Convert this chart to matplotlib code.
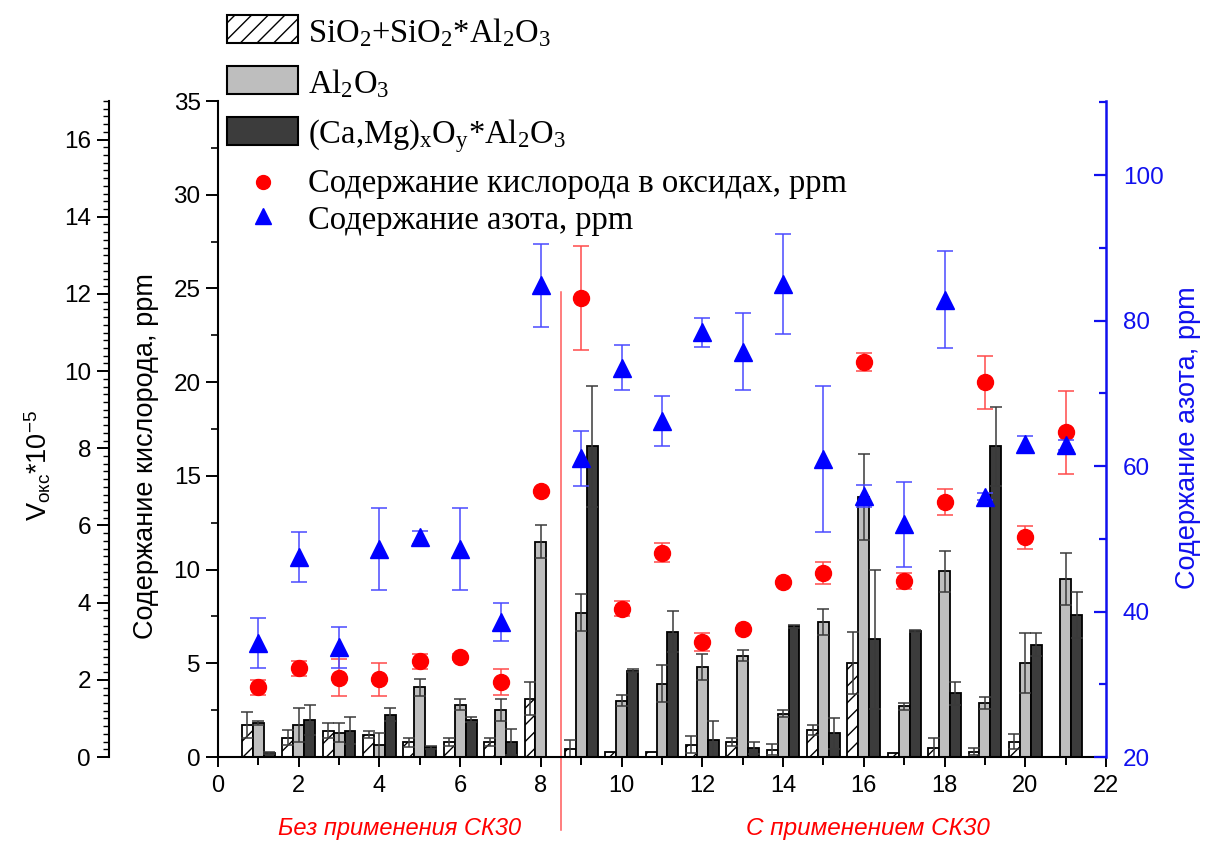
import numpy as np
import matplotlib
matplotlib.use("Agg")
import matplotlib.pyplot as plt
from matplotlib.ticker import MultipleLocator
from matplotlib.patches import Rectangle
from matplotlib.lines import Line2D

plt.rcParams['font.family'] = ['Liberation Sans', 'DejaVu Sans']
plt.rcParams['mathtext.fontset'] = 'custom'
plt.rcParams['mathtext.rm'] = 'Liberation Serif'
plt.rcParams['mathtext.it'] = 'Liberation Serif:italic'
plt.rcParams['mathtext.sf'] = 'Liberation Sans'
plt.rcParams['hatch.linewidth'] = 1.0

# ---------------- data ----------------
samples = np.arange(1, 22)
sio2 = [0.83, 0.50, 0.68, 0.58, 0.38, 0.38, 0.38, 1.51, 0.20, 0.12, 0.12,
        0.32, 0.38, 0.19, 0.69, 2.43, 0.11, 0.24, 0.14, 0.40, 0.0]
sio2_err = [0.33, 0.19, 0.20, 0.10, 0.12, 0.10, 0.10, 0.43, 0.24, 0.0, 0.0,
            0.22, 0.10, 0.15, 0.13, 0.81, 0.0, 0.25, 0.10, 0.19, 0.0]
al2o3 = [0.89, 0.82, 0.63, 0.31, 1.81, 1.36, 1.22, 5.58, 3.74, 1.46, 1.90,
         2.33, 2.62, 1.12, 3.49, 6.73, 1.31, 4.81, 1.40, 2.43, 4.61]
al2o3_err = [0.05, 0.44, 0.25, 0.32, 0.22, 0.15, 0.29, 0.43, 0.48, 0.14, 0.48,
             0.33, 0.14, 0.09, 0.34, 1.11, 0.09, 0.53, 0.15, 0.78, 0.68]
camg = [0.10, 0.96, 0.68, 1.10, 0.25, 0.97, 0.38, 0.0, 8.05, 2.24, 3.25,
        0.43, 0.23, 3.39, 0.62, 3.05, 3.26, 1.65, 8.05, 2.91, 3.68]
camg_err = [0.03, 0.40, 0.35, 0.16, 0.04, 0.06, 0.34, 0.0, 1.56, 0.03, 0.54,
            0.49, 0.15, 0.04, 0.40, 1.80, 0.03, 0.29, 1.03, 0.30, 0.60]
oxygen = [3.73, 4.73, 4.23, 4.14, 5.12, 5.32, 4.02, 14.21, 24.49, 7.91, 10.9,
          6.14, 6.81, 9.32, 9.83, 21.09, 9.41, 13.62, 19.99, 11.72, 17.32]
oxygen_err = [0.4, 0.4, 1.0, 0.9, 0.4, 0.15, 0.7, 0.0, 2.8, 0.39, 0.5,
              0.5, 0.0, 0.0, 0.6, 0.48, 0.42, 0.7, 1.4, 0.6, 2.2]
nitrogen = [35.7, 47.5, 35.1, 48.6, 50.2, 48.6, 38.6, 84.85, 61.06, 73.55, 66.2,
            78.4, 75.7, 85.0, 61.0, 55.9, 51.97, 82.9, 55.8, 63.0, 62.9]
nitrogen_err = [3.4, 3.5, 2.8, 5.7, 0.9, 5.7, 2.6, 5.7, 3.8, 3.1, 3.5,
                2.0, 5.3, 6.9, 10.0, 1.55, 5.9, 6.7, 0.5, 1.2, 0.7]

legend_labels = [r'SiO$_\mathrm{2}$+SiO$_\mathrm{2}$*Al$_\mathrm{2}$O$_\mathrm{3}$',
                 r'Al$_\mathrm{2}$O$_\mathrm{3}$',
                 r'(Ca,Mg)$_\mathrm{x}$O$_\mathrm{y}$*Al$_\mathrm{2}$O$_\mathrm{3}$',
                 'Содержание кислорода в оксидах, ppm',
                 'Содержание азота, ppm']
group_labels = ['Без применения СК30', 'С применением СК30']

# ---------------- figure ----------------
W, H = 1210, 841
fig = plt.figure(figsize=(W / 100, H / 100), dpi=100)

def fx(px):
    return px / W

def fy(py):
    return 1 - py / H

L, R, B, T = 218, 1106, 757, 101
ax = fig.add_axes([fx(L), fy(B), (R - L) / W, (B - T) / H])
axV = ax.twinx()
axN = ax.twinx()
axV.set_zorder(1)
ax.set_zorder(2)
axN.set_zorder(3)
for a in (ax, axV, axN):
    a.patch.set_visible(False)

# inner oxygen axis
ax.set_xlim(0, 22)
ax.set_ylim(0, 35)
for s in ('top', 'right'):
    ax.spines[s].set_visible(False)
ax.spines['left'].set_linewidth(1.5)
ax.spines['bottom'].set_linewidth(1.5)
ax.xaxis.set_major_locator(MultipleLocator(2))
ax.xaxis.set_minor_locator(MultipleLocator(1))
ax.yaxis.set_major_locator(MultipleLocator(5))
ax.yaxis.set_minor_locator(MultipleLocator(2.5))
ax.tick_params(axis='x', which='major', direction='out', length=7, width=1.4,
               labelsize=17, pad=6)
ax.tick_params(axis='x', which='minor', direction='out', length=6, width=1.4)
ax.tick_params(axis='y', which='major', direction='out', length=8.5, width=1.4,
               labelsize=17.5, pad=4)
ax.tick_params(axis='y', which='minor', direction='out', length=5, width=1.2)

# outer V axis (bars)
axV.set_ylim(0, 17)
for s in ('top', 'right', 'bottom'):
    axV.spines[s].set_visible(False)
axV.spines['left'].set_visible(True)
axV.spines['left'].set_position(('axes', -(L - 109) / (R - L)))
axV.spines['left'].set_linewidth(1.5)
axV.yaxis.set_ticks_position('left')
axV.yaxis.set_major_locator(MultipleLocator(2))
axV.yaxis.set_minor_locator(MultipleLocator(0.2))
axV.tick_params(axis='y', which='major', direction='out', length=9, width=1.4,
                labelsize=17.5, pad=4)
axV.tick_params(axis='y', which='minor', direction='out', length=4, width=1.0)

# right nitrogen axis
axN.set_ylim(20, 110.2)
for s in ('top', 'left', 'bottom'):
    axN.spines[s].set_visible(False)
axN.spines['right'].set_color('#1010ee')
axN.spines['right'].set_linewidth(1.8)
axN.yaxis.set_major_locator(MultipleLocator(20))
axN.yaxis.set_minor_locator(MultipleLocator(10))
axN.tick_params(axis='y', which='major', direction='in', length=9, width=1.6,
                colors='#1010ee', labelsize=17.5, pad=12)
axN.tick_params(axis='y', which='minor', direction='in', length=5, width=1.6,
                colors='#1010ee')

# ---------------- bars ----------------
bw = 0.27
series = [
    (sio2, sio2_err, -bw, dict(facecolor='white', hatch='//')),
    (al2o3, al2o3_err, 0.0, dict(facecolor='#bebebe')),
    (camg, camg_err, bw, dict(facecolor='#3c3c3c')),
]
for vals, errs, off, style in series:
    vals = np.asarray(vals, float)
    errs = np.asarray(errs, float)
    m = vals > 0
    axV.bar(samples[m] + off, vals[m], width=bw, edgecolor='black',
            linewidth=1.3, zorder=2, **style)
    e = m & (errs > 0)
    axV.errorbar(samples[e] + off, vals[e], yerr=errs[e], fmt='none',
                 ecolor='#3a3a3a', elinewidth=1.1, capsize=4, capthick=1.1,
                 zorder=3)

# ---------------- points ----------------
ax.errorbar(samples, oxygen, yerr=oxygen_err, fmt='o', color='#ff0000',
            ms=11.5, mec='#ff0000', ecolor='#ff4a4a', elinewidth=1.1,
            capsize=6, capthick=1.1, zorder=4)
axN.errorbar(samples, nitrogen, yerr=nitrogen_err, fmt='^', color='#0000ff',
             ms=13, mec='#0000ff', ecolor='#4a4aff', elinewidth=1.1,
             capsize=6, capthick=1.1, zorder=4)

# separator line
ax.plot([8.5, 8.5], [(B - 292) / ((B - T) / 35), -(830 - B) / ((B - T) / 35)],
        color='#ff5a5a', lw=1.1, clip_on=False, zorder=1)

# group captions
fig.text(fx(400), fy(828), group_labels[0], color='#ff0000', style='italic',
         fontsize=17, ha='center', va='center')
fig.text(fx(868), fy(828), group_labels[1], color='#ff0000', style='italic',
         fontsize=17.5, ha='center', va='center')

# axis labels
fig.text(fx(38), fy(465), r'V$_\mathsf{окс}$*10$^\mathsf{-5}$', rotation=90,
         fontsize=19.5, ha='center', va='center')
fig.text(fx(146), fy(456), 'Содержание кислорода, ppm', rotation=90,
         fontsize=19.5, ha='center', va='center')
fig.text(fx(1188), fy(438), 'Содержание азота, ppm', rotation=90,
         fontsize=19.5, ha='center', va='center', color='#1010ee')

# ---------------- legend (manual) ----------------
patch_styles = [dict(facecolor='white', hatch='//'),
                dict(facecolor='#bebebe'),
                dict(facecolor='#3c3c3c')]
patch_tops = [15, 66, 117]
for st, top in zip(patch_styles, patch_tops):
    fig.add_artist(Rectangle((fx(227), fy(top + 28)), 71 / W, 28 / H,
                             transform=fig.transFigure, edgecolor='black',
                             linewidth=1.5, **st))
baselines = [42, 93, 143, 192, 229]
for lab, bl in zip(legend_labels, baselines):
    fig.text(fx(308), fy(bl), lab, fontsize=23.5, family='Liberation Serif',
             ha='left', va='baseline')
fig.add_artist(Line2D([fx(263)], [fy(182)], marker='o', color='#ff0000',
                      ms=10, linestyle='none', transform=fig.transFigure))
fig.add_artist(Line2D([fx(263)], [fy(216)], marker='^', color='#0000ff',
                      ms=11, linestyle='none', transform=fig.transFigure))

fig.savefig('out.png', dpi=100, facecolor='white')
